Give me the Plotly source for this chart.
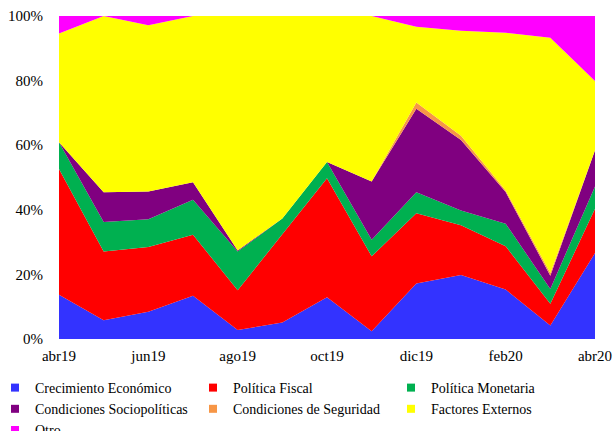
import plotly.graph_objects as go

# Monthly share of each factor (percent of responses)
months = ["abr19", "may19", "jun19", "jul19", "ago19", "sep19", "oct19",
          "nov19", "dic19", "ene20", "feb20", "mar20", "abr20"]
tick_months = ["abr19", "jun19", "ago19", "oct19", "dic19", "feb20", "abr20"]

crecimiento = [13.7, 5.8, 8.4, 13.4, 2.8, 5.1, 12.9, 2.4, 17.2, 19.8, 15.3, 4.2, 26.6]
fiscal = [38.9, 21.3, 20.1, 18.9, 12.3, 27.4, 36.9, 23.2, 21.7, 15.4, 13.4, 6.7, 13.7]
monetaria = [8.3, 9.1, 8.6, 10.8, 12.0, 4.8, 5.0, 5.1, 6.5, 4.6, 7.0, 4.6, 6.9]
sociopoliticas = [0.0, 9.2, 8.6, 5.4, 0.3, 0.0, 0.0, 18.1, 25.9, 21.8, 9.8, 4.1, 11.2]
seguridad = [0.0, 0.0, 0.0, 0.0, 0.0, 0.0, 0.0, 0.0, 1.9, 1.3, 0.5, 0.8, 0.0]
externos = [33.7, 54.6, 51.4, 51.5, 72.6, 62.7, 45.2, 51.2, 23.5, 32.5, 48.8, 72.9, 21.5]
otro = [5.4, 0.0, 2.9, 0.0, 0.0, 0.0, 0.0, 0.0, 3.3, 4.6, 5.2, 6.7, 20.1]

series = [
    ("Crecimiento Económico", crecimiento, "#3333FF"),
    ("Política Fiscal", fiscal, "#FF0000"),
    ("Política Monetaria", monetaria, "#00B050"),
    ("Condiciones Sociopolíticas", sociopoliticas, "#800080"),
    ("Condiciones de Seguridad", seguridad, "#F79646"),
    ("Factores Externos", externos, "#FFFF00"),
    ("Otro", otro, "#FF00FF"),
]

fig = go.Figure()
for name, vals, color in series:
    fig.add_trace(go.Scatter(
        x=months, y=vals, name=name, stackgroup="one",
        mode="lines", line=dict(width=0, color=color),
        fillcolor=color, showlegend=False, hoverinfo="x+y+name",
    ))
    # square swatch for the legend
    fig.add_trace(go.Scatter(
        x=[None], y=[None], name=name, mode="markers",
        marker=dict(symbol="square", size=8, color=color),
        showlegend=True,
    ))

font = dict(family="Liberation Serif", size=15, color="#000000")
legend_font = dict(family="Liberation Serif", size=14, color="#000000")

fig.update_layout(
    width=615, height=431,
    margin=dict(l=59, r=20, t=16, b=92, autoexpand=False),
    paper_bgcolor="white", plot_bgcolor="white",
    font=font,
    xaxis=dict(
        type="category", range=[0, 12], tickmode="array",
        tickvals=tick_months, ticktext=tick_months,
        showgrid=False, zeroline=False, showline=False,
        ticks="", ticklabelstandoff=6, automargin=False,
        tickfont=font,
    ),
    yaxis=dict(
        range=[0, 100], dtick=20, ticksuffix="%",
        showgrid=False, zeroline=False, showline=False,
        ticks="", ticklabelstandoff=15, automargin=False,
        tickfont=font,
    ),
    legend=dict(
        orientation="h",
        x=-0.1194, y=-0.1022, xanchor="left", yanchor="top",
        entrywidth=153, entrywidthmode="pixels", traceorder="normal",
        itemwidth=30, tracegroupgap=0,
        font=legend_font, bgcolor="rgba(0,0,0,0)",
    ),
    showlegend=True,
)

fig.write_html("out.html")
